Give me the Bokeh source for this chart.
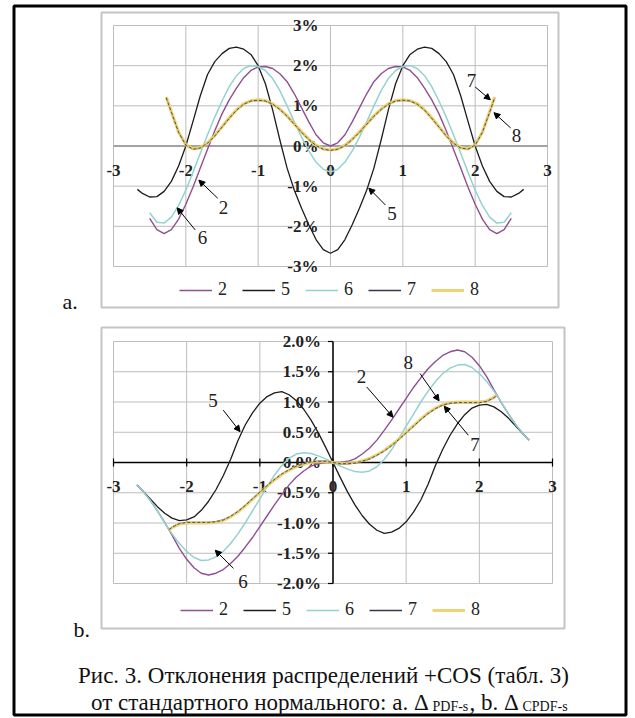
from bokeh.plotting import figure
from bokeh.models import Range1d, Arrow, NormalHead, Legend, LegendItem
from bokeh.core.properties import value
from bokeh.embed import file_html
from bokeh.resources import INLINE

# ---------------- data ----------------
XA_TICKS = [-3, -2, -1, 0, 1, 2, 3]
XA_LABELS = ["-3", "-2", "-1", "0", "1", "2", "3"]
YA_TICKS = [-3, -2, -1, 0, 1, 2, 3]
YA_LABELS = ["-3%", "-2%", "-1%", "0%", "1%", "2%", "3%"]
XB_TICKS = [-3, -2, -1, 0, 1, 2, 3]
XB_LABELS = ["-3", "-2", "-1", "0", "1", "2", "3"]
YB_TICKS = [-2.0, -1.5, -1.0, -0.5, 0.0, 0.5, 1.0, 1.5, 2.0]
YB_LABELS = ["-2.0%", "-1.5%", "-1.0%", "-0.5%", "0.0%", "0.5%", "1.0%", "1.5%", "2.0%"]
SERIES = ["2", "5", "6", "7", "8"]

# panel a: deviation of PDF, %
XA_25 = [-2.5, -2.4, -2.3, -2.2, -2.1, -2.0, -1.9, -1.8, -1.7, -1.6, -1.5, -1.4, -1.3, -1.2, -1.1,
         -1.0, -0.9, -0.8, -0.7, -0.6, -0.5, -0.4, -0.3, -0.2, -0.1, 0.0, 0.1, 0.2, 0.3, 0.4, 0.5,
         0.6, 0.7, 0.8, 0.9, 1.0, 1.1, 1.2, 1.3, 1.4, 1.5, 1.6, 1.7, 1.8, 1.9, 2.0, 2.1, 2.2, 2.3,
         2.4, 2.5]
A_2 = [-1.8, -2.08, -2.18, -2.08, -1.82, -1.45, -1.02, -0.55, -0.08, 0.38, 0.8, 1.15, 1.44, 1.7,
       1.88, 1.97, 1.98, 1.93, 1.8, 1.6, 1.3, 0.95, 0.6, 0.28, 0.08, 0.0, 0.08, 0.28, 0.6, 0.95,
       1.3, 1.6, 1.8, 1.93, 1.98, 1.97, 1.88, 1.7, 1.44, 1.15, 0.8, 0.38, -0.08, -0.55, -1.02,
       -1.45, -1.82, -2.08, -2.18, -2.08, -1.8]
A_6 = [-1.66, -1.9, -1.92, -1.77, -1.48, -1.1, -0.65, -0.18, 0.28, 0.72, 1.12, 1.48, 1.75, 1.93,
       2.0, 1.98, 1.88, 1.68, 1.38, 1.0, 0.6, 0.22, -0.12, -0.4, -0.58, -0.65, -0.58, -0.4, -0.12,
       0.22, 0.6, 1.0, 1.38, 1.68, 1.88, 1.98, 2.0, 1.93, 1.75, 1.48, 1.12, 0.72, 0.28, -0.18,
       -0.65, -1.1, -1.48, -1.77, -1.92, -1.9, -1.66]
XA_27 = [-2.67, -2.6, -2.5, -2.4, -2.3, -2.2, -2.1, -2.0, -1.9, -1.8, -1.7, -1.6, -1.5, -1.4, -1.3,
         -1.2, -1.1, -1.0, -0.9, -0.8, -0.7, -0.6, -0.5, -0.4, -0.3, -0.2, -0.1, 0.0, 0.1, 0.2,
         0.3, 0.4, 0.5, 0.6, 0.7, 0.8, 0.9, 1.0, 1.1, 1.2, 1.3, 1.4, 1.5, 1.6, 1.7, 1.8, 1.9, 2.0,
         2.1, 2.2, 2.3, 2.4, 2.5, 2.6, 2.67]
A_5 = [-1.08, -1.18, -1.27, -1.26, -1.13, -0.88, -0.5, 0.0, 0.62, 1.25, 1.78, 2.1, 2.3, 2.43,
       2.46, 2.41, 2.28, 2.0, 1.55, 0.9, 0.15, -0.55, -1.1, -1.55, -1.96, -2.33, -2.58, -2.67,
       -2.58, -2.33, -1.96, -1.55, -1.1, -0.55, 0.15, 0.9, 1.55, 2.0, 2.28, 2.41, 2.46, 2.43,
       2.3, 2.1, 1.78, 1.25, 0.62, 0.0, -0.5, -0.88, -1.13, -1.26, -1.27, -1.18, -1.08]
XA_23 = [-2.27, -2.2, -2.1, -2.0, -1.9, -1.8, -1.7, -1.6, -1.5, -1.4, -1.3, -1.2, -1.1, -1.0, -0.9,
         -0.8, -0.7, -0.6, -0.5, -0.4, -0.3, -0.2, -0.1, 0.0, 0.1, 0.2, 0.3, 0.4, 0.5, 0.6, 0.7,
         0.8, 0.9, 1.0, 1.1, 1.2, 1.3, 1.4, 1.5, 1.6, 1.7, 1.8, 1.9, 2.0, 2.1, 2.2, 2.27]
A_8 = [1.22, 0.85, 0.35, 0.03, -0.07, -0.04, 0.08, 0.26, 0.48, 0.7, 0.9, 1.05, 1.13, 1.15, 1.13,
       1.05, 0.92, 0.75, 0.55, 0.35, 0.17, 0.02, -0.07, -0.1, -0.07, 0.02, 0.17, 0.35, 0.55, 0.75,
       0.92, 1.05, 1.13, 1.15, 1.13, 1.05, 0.9, 0.7, 0.48, 0.26, 0.08, -0.04, -0.07, 0.03, 0.35,
       0.85, 1.22]
A_7 = [1.2, 0.84, 0.34, 0.02, -0.08, -0.05, 0.07, 0.25, 0.47, 0.69, 0.89, 1.04, 1.12, 1.14, 1.12,
       1.04, 0.91, 0.74, 0.54, 0.34, 0.16, 0.01, -0.08, -0.11, -0.08, 0.01, 0.16, 0.34, 0.54, 0.74,
       0.91, 1.04, 1.12, 1.14, 1.12, 1.04, 0.89, 0.69, 0.47, 0.25, 0.07, -0.05, -0.08, 0.02, 0.34,
       0.84, 1.2]

# panel b: deviation of CDF, %
XB_27 = [-2.68, -2.6, -2.5, -2.4, -2.3, -2.2, -2.1, -2.0, -1.9, -1.8, -1.7, -1.6, -1.5, -1.4, -1.3,
         -1.2, -1.1, -1.0, -0.9, -0.8, -0.7, -0.6, -0.5, -0.4, -0.3, -0.2, -0.1, 0.0, 0.1, 0.2,
         0.3, 0.4, 0.5, 0.6, 0.7, 0.8, 0.9, 1.0, 1.1, 1.2, 1.3, 1.4, 1.5, 1.6, 1.7, 1.8, 1.9, 2.0,
         2.1, 2.2, 2.3, 2.4, 2.5, 2.6, 2.68]
B_2 = [-0.37, -0.47, -0.62, -0.8, -0.99, -1.2, -1.42, -1.6, -1.74, -1.83, -1.86, -1.83, -1.77,
       -1.67, -1.55, -1.4, -1.24, -1.06, -0.88, -0.7, -0.53, -0.37, -0.24, -0.14, -0.06, -0.02, 0.0,
       0.0, 0.0, 0.02, 0.06, 0.14, 0.24, 0.37, 0.53, 0.7, 0.88, 1.06, 1.24, 1.4, 1.55, 1.67, 1.77,
       1.83, 1.86, 1.83, 1.74, 1.6, 1.42, 1.2, 0.99, 0.8, 0.62, 0.47, 0.37]
B_5 = [-0.37, -0.47, -0.6, -0.73, -0.84, -0.92, -0.96, -0.95, -0.9, -0.79, -0.64, -0.45, -0.22,
       0.05, 0.36, 0.62, 0.82, 0.98, 1.09, 1.15, 1.17, 1.12, 1.02, 0.88, 0.7, 0.49, 0.25,
       0.0, -0.25, -0.49, -0.7, -0.88, -1.02, -1.12, -1.17, -1.15, -1.09, -0.98, -0.82, -0.62,
       -0.36, -0.05, 0.22, 0.45, 0.64, 0.79, 0.9, 0.95, 0.96, 0.92, 0.84, 0.73, 0.6, 0.47, 0.37]
B_6 = [-0.37, -0.47, -0.62, -0.8, -1.0, -1.18, -1.34, -1.47, -1.57, -1.62, -1.61, -1.56, -1.47,
       -1.34, -1.18, -1.0, -0.8, -0.6, -0.4, -0.21, -0.05, 0.07, 0.14, 0.16, 0.15, 0.11, 0.06,
       0.0, -0.06, -0.11, -0.15, -0.16, -0.14, -0.07, 0.05, 0.21, 0.4, 0.6, 0.8, 1.0, 1.18, 1.34,
       1.47, 1.56, 1.61, 1.62, 1.57, 1.47, 1.34, 1.18, 1.0, 0.8, 0.62, 0.47, 0.37]
XB_22 = [-2.24, -2.2, -2.1, -2.0, -1.9, -1.8, -1.7, -1.6, -1.5, -1.4, -1.3, -1.2, -1.1, -1.0, -0.9,
         -0.8, -0.7, -0.6, -0.5, -0.4, -0.3, -0.2, -0.1, 0.0, 0.1, 0.2, 0.3, 0.4, 0.5, 0.6, 0.7,
         0.8, 0.9, 1.0, 1.1, 1.2, 1.3, 1.4, 1.5, 1.6, 1.7, 1.8, 1.9, 2.0, 2.1, 2.2, 2.24]
B_8 = [-1.12, -1.08, -1.02, -1.0, -1.0, -1.0, -1.0, -0.99, -0.96, -0.9, -0.82, -0.72, -0.61,
       -0.5, -0.39, -0.29, -0.2, -0.13, -0.07, -0.03, 0.0, 0.01, 0.01,
       0.0, -0.01, -0.01, 0.0, 0.03, 0.07, 0.13, 0.2, 0.29, 0.39, 0.5, 0.61, 0.72, 0.82, 0.9,
       0.96, 0.99, 1.0, 1.0, 1.0, 1.0, 1.02, 1.08, 1.12]
B_7 = [-1.11, -1.07, -1.01, -0.99, -0.99, -0.99, -0.99, -0.98, -0.95, -0.89, -0.81, -0.71, -0.6,
       -0.49, -0.38, -0.28, -0.19, -0.12, -0.06, -0.02, 0.01, 0.02, 0.02,
       0.0, -0.02, -0.02, -0.01, 0.02, 0.06, 0.12, 0.19, 0.28, 0.38, 0.49, 0.6, 0.71, 0.81, 0.89,
       0.95, 0.98, 0.99, 0.99, 0.99, 0.99, 1.01, 1.07, 1.11]

CAPTION_1 = "Рис. 3. Отклонения распределений +COS (табл. 3)"
CAPTION_2 = ["от стандартного нормального:  a. Δ", "PDF-s", ",  b. Δ", "CPDF-s"]

# ---------------- styling / layout ----------------
C2, C5, C6, C7, C8 = "#8f4f93", "#1c1c1c", "#94d2d2", "#36344f", "#ebd068"
GRID = "#bdbdbd"
FONT = "Liberation Serif, serif"
SERIF = value(FONT)

# page-pixel layout of the two plot areas
PX0, PX1, PY0, PY1 = 0, 635, 0, 718
A_L, A_R, A_T, A_B = 113, 547, 25, 266      # plot area a: x -3..3, y 3..-3
B_L, B_R, B_T, B_B = 113, 552, 341, 583     # plot area b: x -3..3, y 2..-2

p = figure(width=PX1 - PX0, height=PY1 - PY0, title=None,
           x_range=Range1d(PX0, PX1), y_range=Range1d(PY1, PY0),
           x_axis_type=None, y_axis_type=None, toolbar_location=None,
           output_backend="svg", min_border=0)
p.outline_line_color = None
p.background_fill_color = "white"
p.border_fill_color = "white"


def add_ranges(name, left, right, top, bottom, xlo, xhi, ylo, yhi):
    sx = (right - left) / (xhi - xlo)
    sy = (bottom - top) / (yhi - ylo)
    p.extra_x_ranges[name + "x"] = Range1d(xlo + (PX0 - left) / sx, xhi + (PX1 - right) / sx)
    p.extra_y_ranges[name + "y"] = Range1d(ylo - (PY1 - bottom) / sy, yhi + (top - PY0) / sy)
    return sx, sy


asx, asy = add_ranges("a", A_L, A_R, A_T, A_B, min(XA_TICKS), max(XA_TICKS), min(YA_TICKS), max(YA_TICKS))
bsx, bsy = add_ranges("b", B_L, B_R, B_T, B_B, min(XB_TICKS), max(XB_TICKS), min(YB_TICKS), max(YB_TICKS))
RA = dict(x_range_name="ax", y_range_name="ay")
RB = dict(x_range_name="bx", y_range_name="by")

# outer black frame and the two chart-area frames
p.quad(left=[13.5], right=[625.5], top=[5.5], bottom=[714.5], fill_color=None,
       line_color="black", line_width=3)
p.quad(left=[101], right=[558], top=[12], bottom=[307], fill_color=None, line_color="#c4c4c4", line_width=2)
p.quad(left=[101], right=[564], top=[327], bottom=[628], fill_color=None, line_color="#c4c4c4", line_width=2)


def draw_grid(xt, yt, R):
    n, m = len(xt), len(yt)
    p.segment(x0=xt, x1=xt, y0=[min(yt)] * n, y1=[max(yt)] * n, line_color=GRID, line_width=1, **R)
    p.segment(x0=[min(xt)] * m, x1=[max(xt)] * m, y0=yt, y1=yt, line_color=GRID, line_width=1, **R)


def tick_labels(xt, xl, yt, yl, R):
    kw = dict(text_font=SERIF, text_font_style="bold", text_font_size="17px", text_color="#222222")
    p.text(x=xt, y=[0] * len(xt), text=xl, y_offset=24, text_align="center",
           text_baseline="middle", **kw, **R)
    p.text(x=[0] * len(yt), y=yt, text=yl, x_offset=-12, text_align="right",
           text_baseline="middle", **kw, **R)


# ---- panel a ----
draw_grid(XA_TICKS, YA_TICKS, RA)
p.segment(x0=[min(XA_TICKS)], x1=[max(XA_TICKS)], y0=[0], y1=[0], line_color="#a3a3a3", line_width=2, **RA)
tick_labels(XA_TICKS, XA_LABELS, YA_TICKS, YA_LABELS, RA)

ra2 = p.line(XA_25, A_2, line_color=C2, line_width=1.4, **RA)
ra5 = p.line(XA_27, A_5, line_color=C5, line_width=1.3, **RA)
ra6 = p.line(XA_25, A_6, line_color=C6, line_width=1.5, **RA)
ra7 = p.line(XA_23, A_7, line_color=C7, line_width=1.4, **RA)
ra8 = p.line(XA_23, A_8, line_color=C8, line_width=3.2, line_alpha=0.9, **RA)
p.line(XA_23, A_7, line_color=C7, line_width=1, line_dash="3 2", line_alpha=0.8, **RA)

# ---- panel b ----
draw_grid(XB_TICKS, YB_TICKS, RB)
p.segment(x0=[min(XB_TICKS)], x1=[max(XB_TICKS)], y0=[0], y1=[0], line_color="black", line_width=1.5, **RB)
p.segment(x0=[0], x1=[0], y0=[min(YB_TICKS)], y1=[max(YB_TICKS)], line_color="black", line_width=1.5, **RB)
tk = 4 / bsy
p.segment(x0=XB_TICKS, x1=XB_TICKS, y0=[-tk] * len(XB_TICKS), y1=[tk] * len(XB_TICKS),
          line_color="black", line_width=1.2, **RB)
tl = 5 / bsx
p.segment(x0=[-tl] * len(YB_TICKS), x1=[0] * len(YB_TICKS), y0=YB_TICKS, y1=YB_TICKS,
          line_color="black", line_width=1.2, **RB)
tick_labels(XB_TICKS, XB_LABELS, YB_TICKS, YB_LABELS, RB)

rb2 = p.line(XB_27, B_2, line_color=C2, line_width=1.4, **RB)
rb5 = p.line(XB_27, B_5, line_color=C5, line_width=1.3, **RB)
rb6 = p.line(XB_27, B_6, line_color=C6, line_width=1.5, **RB)
rb7 = p.line(XB_22, B_7, line_color=C7, line_width=1.4, **RB)
rb8 = p.line(XB_22, B_8, line_color=C8, line_width=2.8, line_alpha=0.9, **RB)
p.line(XB_22, B_7, line_color=C7, line_width=1, line_dash="3 2", line_alpha=0.8, **RB)

# ---- curve annotations ----
ANN_A = [("7", 1.95, 1.64, 2.0, 1.47, 2.21, 1.15),
         ("8", 2.57, 0.25, 2.49, 0.45, 2.26, 0.83),
         ("2", -1.48, -1.54, -1.56, -1.3, -1.82, -0.85),
         ("6", -1.77, -2.29, -1.87, -2.09, -2.12, -1.54),
         ("5", 0.85, -1.67, 0.76, -1.47, 0.53, -1.05)]
ANN_B = [("5", -1.64, 1.03, -1.50, 0.865, -1.27, 0.51),
         ("2", 0.39, 1.42, 0.46, 1.25, 0.82, 0.75),
         ("8", 1.03, 1.66, 1.19, 1.47, 1.45, 1.02),
         ("7", 1.94, 0.29, 1.85, 0.45, 1.52, 0.93),
         ("6", -1.23, -1.97, -1.36, -1.75, -1.61, -1.45)]
for ann, R in ((ANN_A, RA), (ANN_B, RB)):
    p.text(x=[a[1] for a in ann], y=[a[2] for a in ann], text=[a[0] for a in ann],
           text_font=SERIF, text_font_size="19px", text_align="center", text_baseline="middle",
           text_color="#222222", **R)
    for t, lx, ly, x0, y0, x1, y1 in ann:
        p.add_layout(Arrow(end=NormalHead(size=6, fill_color="black", line_color="black"),
                           x_start=x0, y_start=y0, x_end=x1, y_end=y1,
                           line_color="black", line_width=1, **R))

# ---- legends ----
leg_kw = dict(orientation="horizontal", label_text_font=FONT, label_text_font_size="18px",
              label_text_color="#222222", glyph_width=33, glyph_height=20, label_height=20,
              label_width=9, label_standoff=6, spacing=15, padding=0, margin=0,
              border_line_color=None, background_fill_alpha=0)
leg_a = Legend(items=[LegendItem(label=s, renderers=[r]) for s, r in zip(SERIES, [ra2, ra5, ra6, ra7, ra8])],
               location=(179, 418), **leg_kw)
leg_b = Legend(items=[LegendItem(label=s, renderers=[r]) for s, r in zip(SERIES, [rb2, rb5, rb6, rb7, rb8])],
               location=(180, 98), **leg_kw)
p.add_layout(leg_a)
p.add_layout(leg_b)

# ---- panel letters and caption (page-pixel coordinates) ----
p.text(x=[62, 73], y=[301, 629], text=["a.", "b."], text_font=SERIF, text_font_size="22px",
       text_align="left", text_baseline="middle", text_color="#111111")
p.text(x=[323], y=[675], text=[CAPTION_1], text_font=SERIF, text_font_size="23px",
       text_align="center", text_baseline="alphabetic", text_color="#111111")
cap_x = [434, 432, 524, 522]
cap_y = [702, 706, 702, 706]
cap_sz = ["23px", "14px", "23px", "14px"]
cap_al = ["right", "left", "right", "left"]
for t, x, y, s, al in zip(CAPTION_2, cap_x, cap_y, cap_sz, cap_al):
    p.text(x=[x], y=[y], text=[t], text_font=SERIF, text_font_size=s,
           text_align=al, text_baseline="alphabetic", text_color="#111111")

open("out.html", "w").write(file_html(p, INLINE))
